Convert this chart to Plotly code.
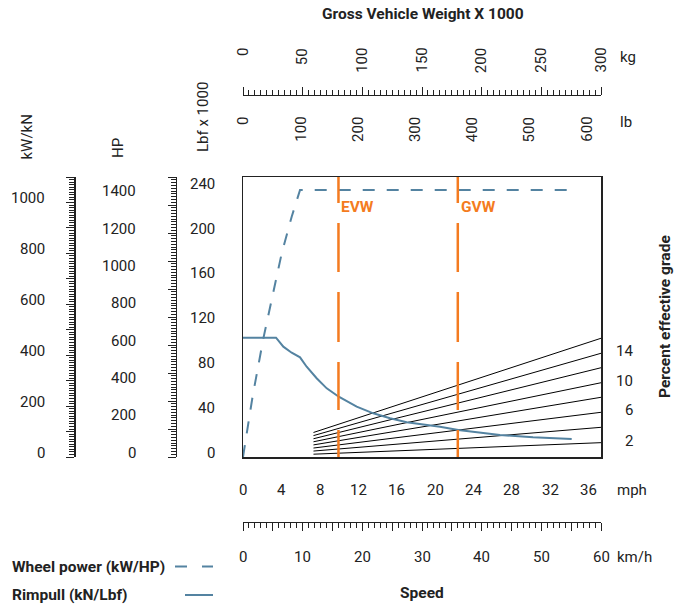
import plotly.graph_objects as go

W, H = 677, 607
FONT = "Roboto, Liberation Sans, sans-serif"
INK = "#222222"
BLUE = "#5483a1"
ORANGE = "#f47b20"
FS = 15      # regular text size
FB = 15.5    # bold text size

# ---------------- data ----------------
mph_rimpull = [0, 3.44, 4.20, 5.07, 5.94, 6.63, 7.67, 8.72, 9.97, 11.84, 13.57,
               15.31, 17.05, 20.51, 22.42, 26.76, 30.20, 34.23]
rimpull_klbf = [106.5, 106.5, 98.5, 93.1, 89.0, 80.6, 70.3, 61.3, 53.8, 44.9, 39.0,
                34.6, 31.0, 27.1, 24.1, 19.6, 17.6, 16.1]

mph_power = [0, 1.0, 2.12, 3.16, 4.03, 5.07, 5.94, 34.36]
power_kw = [0, 238, 466, 643, 800, 944, 1049, 1049]

grades = [16, 14, 12, 10, 8, 6, 4, 2]
grade_mph = [7.34, 37.28]
grade_start_klbf = [21.9, 19.1, 16.3, 13.6, 10.8, 8.0, 5.3, 2.5]
grade_end_klbf = [106.0, 92.6, 79.7, 66.3, 53.3, 39.9, 26.5, 12.8]
grade_labels = [14, 10, 6, 2]

weight_marks = ["EVW", "GVW"]
weight_marks_kg = [80, 180]

mph_ticks = [0, 4, 8, 12, 16, 20, 24, 28, 32, 36]
kmh_ticks = [0, 10, 20, 30, 40, 50, 60]
kg_ticks = [0, 50, 100, 150, 200, 250, 300]
lb_ticks = [0, 100, 200, 300, 400, 500, 600]
kw_ticks = [0, 200, 400, 600, 800, 1000]
hp_ticks = [0, 200, 400, 600, 800, 1000, 1200, 1400]
lbf_ticks = [0, 40, 80, 120, 160, 200, 240]

# axis ranges
MPH_RANGE = [0, 37.282]
KMH_RANGE = [0, 60]
KG_RANGE = [0, 300]
LB_RANGE = [0, 626]
LBF_RANGE = [0, 250]
KW_RANGE = [0, 1100]
HP_RANGE = [0, 1500]


def px(x):
    return x / W


def py(y):
    return 1 - y / H


fig = go.Figure()

# grade lines
for s, e in zip(grade_start_klbf, grade_end_klbf):
    fig.add_trace(go.Scatter(x=grade_mph, y=[s, e], mode="lines",
                             line=dict(color="black", width=1), hoverinfo="skip"))

# rimpull
fig.add_trace(go.Scatter(x=mph_rimpull, y=rimpull_klbf, mode="lines",
                         line=dict(color=BLUE, width=2), name="Rimpull (kN/Lbf)"))
# wheel power
fig.add_trace(go.Scatter(x=mph_power, y=power_kw, yaxis="y3", mode="lines",
                         line=dict(color=BLUE, width=2, dash="12px,12px"),
                         name="Wheel power (kW/HP)"))
# EVW / GVW markers
ORANGE_DASH = "26px,20px,49px,20px,50px,20px,48px,20px,40px"
for kg in weight_marks_kg:
    fig.add_trace(go.Scatter(x=[kg, kg], y=[LBF_RANGE[1], LBF_RANGE[0]], xaxis="x2", yaxis="y",
                             mode="lines", line=dict(color=ORANGE, width=2.5, dash=ORANGE_DASH),
                             hoverinfo="skip"))

# empty traces so that every scale exists as a subplot
for xa, ya in [("x3", "y"), ("x4", "y"), ("x", "y2"), ("x", "y4")]:
    fig.add_trace(go.Scatter(x=[None], y=[None], xaxis=xa, yaxis=ya, mode="lines",
                             hoverinfo="skip"))

dom_x = [px(243), px(601)]
dom_y = [py(457), py(177)]

plain = dict(showgrid=False, zeroline=False, fixedrange=True)


def ruler(rng, pos, side, dt, mdt, **kw):
    d = dict(range=rng, anchor="free", position=pos, side=side, showline=True,
             linecolor=INK, linewidth=1.3, ticks="outside", tickmode="linear", tick0=0,
             dtick=dt, ticklen=8, tickwidth=1, tickcolor=INK, showticklabels=False,
             minor=dict(tickmode="linear", tick0=0, dtick=mdt, ticks="outside", ticklen=5,
                        tickwidth=1, tickcolor=INK), **plain)
    d.update(kw)
    return d


fig.update_layout(
    width=W, height=H, margin=dict(l=0, r=0, t=0, b=0),
    paper_bgcolor="white", plot_bgcolor="white", showlegend=False,
    font=dict(family=FONT, color=INK, size=FS),
    xaxis=dict(domain=dom_x, range=MPH_RANGE, showline=True, mirror=True, linecolor=INK,
               linewidth=1.5, ticks="", showticklabels=False, **plain),
    yaxis=dict(domain=dom_y, range=LBF_RANGE, showline=True, mirror=True, linecolor=INK,
               linewidth=1.5, ticks="", showticklabels=False, **plain),
    xaxis2=ruler(KG_RANGE, py(95), "top", 50, 5, overlaying="x"),
    xaxis3=dict(range=LB_RANGE, overlaying="x", anchor="y", showline=False, ticks="",
                showticklabels=False, **plain),
    xaxis4=ruler(KMH_RANGE, py(521.7), "bottom", 5, 1, overlaying="x"),
    yaxis2=ruler(LBF_RANGE, px(175.7), "left", 25, 2.5, overlaying="y"),
    yaxis3=ruler(KW_RANGE, px(74.3), "left", 100, 10, overlaying="y"),
    yaxis4=dict(range=HP_RANGE, overlaying="y", anchor="free", position=px(136), side="left",
                showline=False, ticks="", showticklabels=False, **plain),
)

ann = []


def label(text, bold=False, color=INK, **kw):
    d = dict(text=("<b>%s</b>" % text) if bold else text, showarrow=False, borderpad=0,
             borderwidth=0, font=dict(family=FONT, size=FB if bold else FS, color=color))
    d.update(kw)
    ann.append(d)


# tick labels
for v in kw_ticks:
    label(str(v), xref="paper", x=px(45), xanchor="right", yref="y3", y=v, yshift=4.5,
          yanchor="middle")
for v in hp_ticks:
    label(str(v), xref="paper", x=px(136), xanchor="right", yref="y4", y=v, yshift=4.5,
          yanchor="middle")
for v in lbf_ticks:
    label(str(v), xref="paper", x=px(215), xanchor="right", yref="y", y=v, yshift=4.5,
          yanchor="middle")
for v in mph_ticks:
    label(str(v), xref="x", x=v, xanchor="center", yref="paper", y=py(490), yanchor="middle")
for v in kmh_ticks:
    label(str(v), xref="x4", x=v, xanchor="center", yref="paper", y=py(557), yanchor="middle")
for v in kg_ticks:
    label(str(v), xref="x2", x=v, xanchor="center", yref="paper", y=py(48), yanchor="top",
          textangle=-90)
for v in lb_ticks:
    label(str(v), xref="x3", x=v, xanchor="center", yref="paper", y=py(117), yanchor="top",
          textangle=-90)
for g in grade_labels:
    label(str(g), xref="paper", x=px(633), xanchor="right", yref="y",
          y=grade_end_klbf[grades.index(g)], yshift=2, yanchor="middle")

# units & titles
label("kg", xref="paper", x=px(620), xanchor="left", yref="paper", y=py(57), yanchor="middle")
label("lb", xref="paper", x=px(620), xanchor="left", yref="paper", y=py(122), yanchor="middle")
label("mph", xref="paper", x=px(617), xanchor="left", yref="paper", y=py(490), yanchor="middle")
label("km/h", xref="paper", x=px(617), xanchor="left", yref="paper", y=py(557), yanchor="middle")
label("kW/kN", xref="paper", x=px(27), xanchor="center", yref="paper", y=py(160),
      yanchor="bottom", textangle=-90)
label("HP", xref="paper", x=px(118), xanchor="center", yref="paper", y=py(158),
      yanchor="bottom", textangle=-90)
label("Lbf x 1000", xref="paper", x=px(203), xanchor="center", yref="paper", y=py(152),
      yanchor="bottom", textangle=-90)
label("Gross Vehicle Weight X 1000", bold=True, xref="paper", x=px(423), xanchor="center",
      yref="paper", y=py(14), yanchor="middle")
label("Speed", bold=True, xref="paper", x=px(422), xanchor="center", yref="paper", y=py(593),
      yanchor="middle")
label("Percent effective grade", bold=True, xref="paper", x=px(665), xanchor="center",
      yref="paper", y=py(317), yanchor="middle", textangle=-90)
label("Wheel power (kW/HP)", bold=True, xref="paper", x=px(12), xanchor="left", yref="paper",
      y=py(567), yanchor="middle")
label("Rimpull (kN/Lbf)", bold=True, xref="paper", x=px(12), xanchor="left", yref="paper",
      y=py(595), yanchor="middle")
for name, kg in zip(weight_marks, weight_marks_kg):
    label(name, bold=True, color=ORANGE, xref="x2", x=kg, xshift=3, xanchor="left",
          yref="paper", y=py(207), yanchor="middle")

fig.update_layout(annotations=ann)

# legend keys
fig.add_shape(type="line", xref="paper", yref="paper", x0=px(175), x1=px(213),
              y0=py(566.5), y1=py(566.5), line=dict(color=BLUE, width=2, dash="12px,15px"))
fig.add_shape(type="line", xref="paper", yref="paper", x0=px(185), x1=px(213),
              y0=py(595), y1=py(595), line=dict(color=BLUE, width=2))

fig.write_html("out.html", config={"displayModeBar": False, "staticPlot": True},
               post_script="document.body.style.margin='0';document.body.style.padding='0';")
